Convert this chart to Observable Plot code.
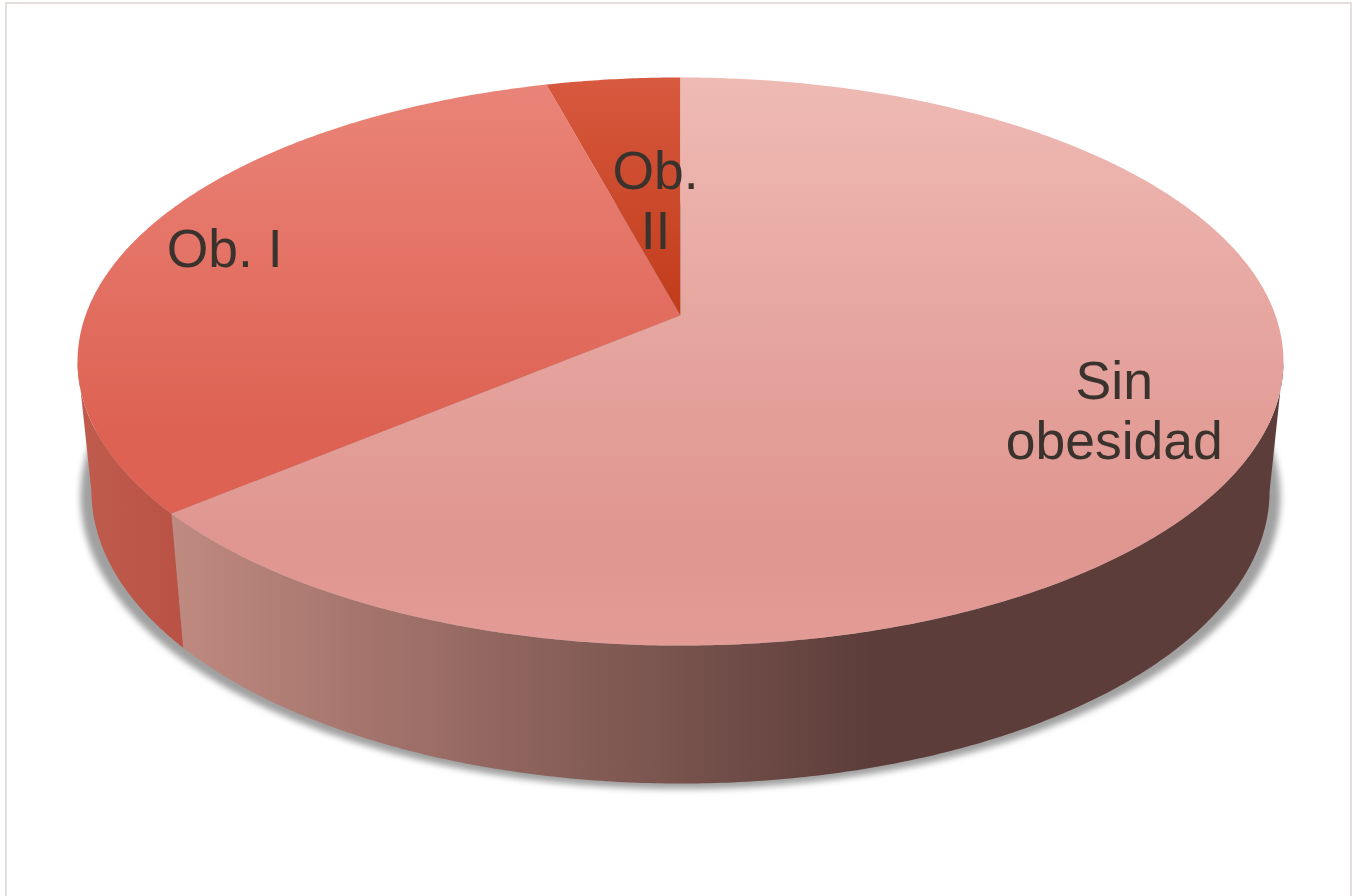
<!DOCTYPE html>
<html>
<head>
<meta charset="utf-8">
<script src="https://cdn.jsdelivr.net/npm/d3@7"></script>
<script src="https://cdn.jsdelivr.net/npm/@observablehq/plot@0.6"></script>
<style>
  html, body { margin: 0; padding: 0; background: #fff; }
  #page { position: relative; width: 1352px; height: 896px; overflow: hidden; }
  #page svg { position: absolute; left: 0; top: 0; }
  #sheet { position: absolute; left: 5px; top: 2px; width: 1343px; height: 900px;
           border: 2px solid #e4dfdc; box-sizing: content-box; }
</style>
</head>
<body>
<div id="page"><div id="sheet"></div></div>
<script>
// Share of patients per obesity group, clockwise from twelve o'clock
const categories = ["Sin\nobesidad", "Ob. I", "Ob.\nII"];
const shares = [63.9, 31.9, 4.2];

// Label anchors, in the same disc units as the x and y scales
const labelX = [0.729, -0.766, -0.042];
const labelY = [-0.34, 0.243, 0.419];

// View of the tilted disc: the near rim looks larger than the far rim
const tilt = 0.162;
const base = { sx: 0.977, sy: 1.03, dy: -0.463 };
const shadow = { sx: 0.995, sy: 1.03, dy: -0.483 };
const silhouette = Math.acos(-tilt);

const rim = (theta, r = 1) => {
  const u = Math.sin(theta) * r, v = Math.cos(theta) * r, w = 1 + tilt * v;
  return { x: u / w, y: v / w };
};
const span = (a, b) => {
  const n = Math.max(2, Math.ceil(Math.abs(b - a) / (Math.PI / 360)));
  return d3.range(n + 1).map((i) => a + (b - a) * i / n);
};
const onBase = (p, o = base) => ({ x: p.x * o.sx, y: p.y * o.sy + o.dy });

// Start and end angle of each slice
let running = 0;
const total = d3.sum(shares);
const slices = shares.map((s) => {
  const a0 = running / total * 2 * Math.PI;
  running += s;
  return { a0, a1: running / total * 2 * Math.PI };
});

const topFace = ({ a0, a1 }) => [{ x: 0, y: 0 }, ...span(a0, a1).map((t) => rim(t))];
const wall = (a0, a1) => [
  ...span(a0, a1).map((t) => rim(t)),
  ...span(a1, a0).map((t) => onBase(rim(t)))
];
const footprint = span(0, 2 * Math.PI).map((t) => onBase(rim(t), shadow));

// Gradients referenced by the slices and the side walls
const gradients = [
  { id: "top0", vertical: true, stops: [[0, "#efbab4"], [0.55, "#e4a09a"], [0.82, "#e09690"], [1, "#e39b95"]] },
  { id: "top1", vertical: true, stops: [[0, "#ea8478"], [0.8, "#dd6253"], [1, "#dd6253"]] },
  { id: "top2", vertical: true, stops: [[0, "#d7593f"], [1, "#c13b19"]] },
  { id: "side0", vertical: false, stops: [[0, "#c08a80"], [0.63, "#5c3d3a"], [1, "#5c3d3a"]] },
  { id: "side1", vertical: false, stops: [[0, "#bf5c4d"], [1, "#b95245"]] }
];
const defs = () => {
  const d = d3.create("svg:defs");
  for (const g of gradients) {
    const lg = d.append("linearGradient").attr("id", g.id)
      .attr("x1", 0).attr("y1", 0)
      .attr("x2", g.vertical ? 0 : 1).attr("y2", g.vertical ? 1 : 0);
    for (const [o, c] of g.stops) lg.append("stop").attr("offset", o).attr("stop-color", c);
  }
  return d.node();
};

const solid = (data, fill, extra = {}) =>
  Plot.line(data, { x: "x", y: "y", fill, stroke: "none", ...extra });

const labels = categories.map((text, i) => ({ text, x: labelX[i], y: labelY[i] }));

const chart = Plot.plot({
  width: 1352,
  height: 896,
  margin: 0,
  style: { background: "transparent" },
  x: { domain: [-680 / 595, 672 / 595], range: [0, 1352], axis: null },
  y: { domain: [-581 / 276.6, 315 / 276.6], range: [896, 0], axis: null },
  marks: [
    defs,
    solid(footprint, "#a0a0a0", { imageFilter: "blur(3px)" }),
    solid(wall(silhouette, slices[0].a1), "url(#side0)"),
    solid(wall(slices[1].a0, 2 * Math.PI - silhouette), "url(#side1)"),
    solid(topFace(slices[1]), "url(#top1)"),
    solid(topFace(slices[2]), "url(#top2)"),
    solid(topFace(slices[0]), "url(#top0)"),
    Plot.text(labels, {
      x: "x", y: "y", text: "text",
      fontFamily: "Liberation Sans",
      fontSize: 53.5,
      lineHeight: 1.12,
      fill: "#3a322d"
    })
  ]
});
document.getElementById("page").appendChild(chart);
</script>
</body>
</html>
